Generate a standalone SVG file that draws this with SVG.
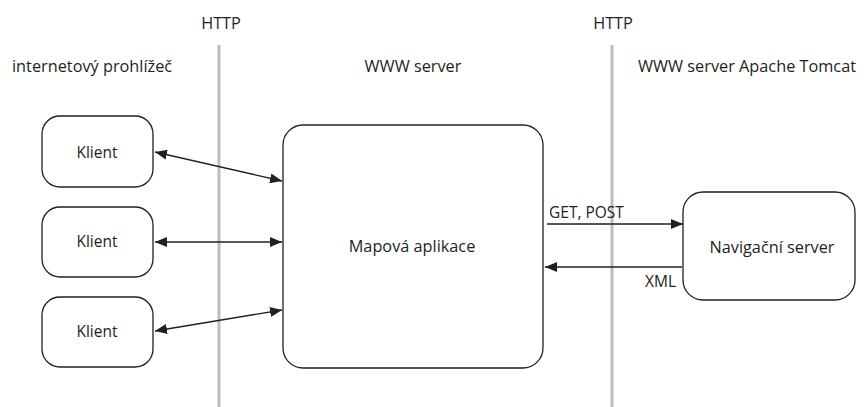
<svg xmlns="http://www.w3.org/2000/svg" width="865" height="407" viewBox="0 0 865 407">
<defs>
<style>
text{font-family:"Open Sans","Liberation Sans",sans-serif;font-size:16.3px;fill:#231f20}
.s{font-size:15.5px}
.box{fill:#fff;stroke:#231f20;stroke-width:1.3}
.sep{stroke:#bcbec0;stroke-width:3}
.con{stroke:#231f20;stroke-width:1.4;fill:none}
.m{text-anchor:middle}
</style>
<marker id="ah" viewBox="0 0 12 10" refX="12" refY="5" markerWidth="12" markerHeight="10" markerUnits="userSpaceOnUse" orient="auto-start-reverse">
<path d="M0,0L12,5L0,10z" fill="#231f20"/>
</marker>
</defs>
<rect width="865" height="407" fill="#fff"/>
<g id="separators">
<line class="sep" x1="219" y1="45" x2="219" y2="407"/>
<line class="sep" x1="612" y1="45" x2="612" y2="407"/>
</g>
<g id="labels">
<text class="m" x="221" y="29">HTTP</text>
<text class="m" x="613" y="29">HTTP</text>
<text x="12" y="72">internetový prohlížeč</text>
<text class="m" x="413" y="72">WWW server</text>
<text x="638" y="72">WWW server Apache Tomcat</text>
</g>
<g id="klient1"><rect class="box" x="42" y="116" width="111" height="71" rx="18"/><text class="m s" x="97" y="158">Klient</text></g>
<g id="klient2"><rect class="box" x="42" y="207" width="111" height="70" rx="18"/><text class="m s" x="97" y="247">Klient</text></g>
<g id="klient3"><rect class="box" x="42" y="297" width="111" height="70" rx="18"/><text class="m s" x="97" y="337">Klient</text></g>
<g id="mapova"><rect class="box" x="283" y="125" width="260" height="243" rx="20"/><text class="m" x="412" y="252">Mapová aplikace</text></g>
<g id="navigacni"><rect class="box" x="683" y="192" width="172" height="108" rx="20"/><text class="m" x="772" y="253">Navigační server</text></g>
<g id="connectors">
<line class="con" x1="155" y1="152" x2="282" y2="181" marker-start="url(#ah)" marker-end="url(#ah)"/>
<line class="con" x1="155" y1="242" x2="282" y2="242" marker-start="url(#ah)" marker-end="url(#ah)"/>
<line class="con" x1="155" y1="331" x2="282" y2="310" marker-start="url(#ah)" marker-end="url(#ah)"/>
<line class="con" x1="547" y1="224" x2="683" y2="224" marker-end="url(#ah)"/>
<line class="con" x1="682" y1="267" x2="545" y2="267" marker-end="url(#ah)"/>
<text class="s" x="549" y="218">GET, POST</text>
<text class="s" x="676" y="287" text-anchor="end">XML</text>
</g>
</svg>
